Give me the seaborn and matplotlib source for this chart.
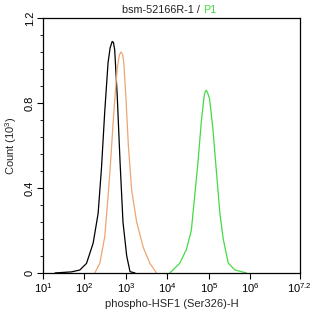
import numpy as np
import pandas as pd
import matplotlib
matplotlib.use("Agg")
import matplotlib.pyplot as plt
import matplotlib.ticker as mticker
import seaborn as sns

# log10 fluorescence / count (10^3)
black_log = [1.29, 1.69, 1.89, 2.05, 2.21, 2.33, 2.41, 2.49, 2.57, 2.62, 2.67, 2.70, 2.73, 2.79, 2.86, 2.93, 3.02, 3.10, 3.22]
black_cnt = [0.0, 0.005, 0.014, 0.045, 0.14, 0.28, 0.49, 0.76, 0.99, 1.06, 1.09, 1.085, 1.05, 0.84, 0.52, 0.24, 0.08, 0.006, 0.0]

orange_log = [2.25, 2.37, 2.49, 2.57, 2.63, 2.71, 2.79, 2.84, 2.88, 2.92, 2.95, 3.00, 3.06, 3.14, 3.26, 3.42, 3.58, 3.74]
orange_cnt = [0.0, 0.045, 0.17, 0.36, 0.52, 0.76, 0.96, 1.025, 1.04, 1.03, 0.99, 0.83, 0.60, 0.39, 0.24, 0.12, 0.045, 0.0]

green_log = [4.06, 4.30, 4.46, 4.58, 4.66, 4.74, 4.82, 4.89, 4.92, 4.94, 4.97, 5.02, 5.10, 5.18, 5.27, 5.35, 5.47, 5.63, 5.91]
green_cnt = [0.0, 0.045, 0.11, 0.20, 0.36, 0.52, 0.71, 0.835, 0.855, 0.86, 0.85, 0.82, 0.68, 0.49, 0.28, 0.16, 0.047, 0.014, 0.0]

x_ticks = [1, 2, 3, 4, 5, 6, 7.2]
x_tick_labels = ["$10^{1}$", "$10^{2}$", "$10^{3}$", "$10^{4}$", "$10^{5}$", "$10^{6}$", "$10^{7.2}$"]
y_ticks = [0, 0.4, 0.8, 1.2]
y_tick_labels = ["0", "0.4", "0.8", "1.2"]

sns.set_style("ticks")
plt.rcParams['font.family'] = ['Liberation Sans', 'DejaVu Sans']
plt.rcParams['mathtext.fontset'] = 'custom'
plt.rcParams['mathtext.rm'] = 'Liberation Sans'
plt.rcParams['mathtext.it'] = 'Liberation Sans'

fig = plt.figure(figsize=(3.14, 3.17), dpi=100)
ax = fig.add_axes([0.137, 0.139, 0.818, 0.804])

for lg, cnt, col in [(black_log, black_cnt, "black"),
                     (orange_log, orange_cnt, "#EDA673"),
                     (green_log, green_cnt, "#44DA44")]:
    sns.lineplot(x=10 ** np.array(lg), y=cnt, color=col, lw=0.9, ax=ax, sort=False)

ax.set_xscale("log")
ax.set_xlim(10 ** 1, 10 ** 7.2)
ax.set_ylim(0, 1.2)
ax.set_xticks([10 ** t for t in x_ticks])
ax.set_xticklabels(x_tick_labels, fontsize=8)
ax.xaxis.set_minor_locator(mticker.LogLocator(base=10, subs=np.arange(2, 10)))
ax.xaxis.set_minor_formatter(mticker.NullFormatter())
ax.set_yticks(y_ticks)
ax.set_yticklabels(y_tick_labels, fontsize=8, rotation=90, va="center")
ax.yaxis.set_minor_locator(mticker.MultipleLocator(0.08))

for s in ax.spines.values():
    s.set_linewidth(0.9)
    s.set_color("black")
ax.tick_params(which="major", length=4, width=0.8, pad=2, colors="black")
ax.tick_params(which="minor", length=2, width=0.6, colors="black")

ax.set_xlabel("phospho-HSF1 (Ser326)-H", fontsize=8, labelpad=3)
ax.set_ylabel("Count (10$^{3}$)", fontsize=8, labelpad=4)

fig.text(0.647, 0.967, "bsm-52166R-1 / ", ha="right", va="center", fontsize=7.8, color="#222222")
fig.text(0.647, 0.967, "P1", ha="left", va="center", fontsize=7.8, color="#44DA44")

fig.savefig("out.png", dpi=100)
